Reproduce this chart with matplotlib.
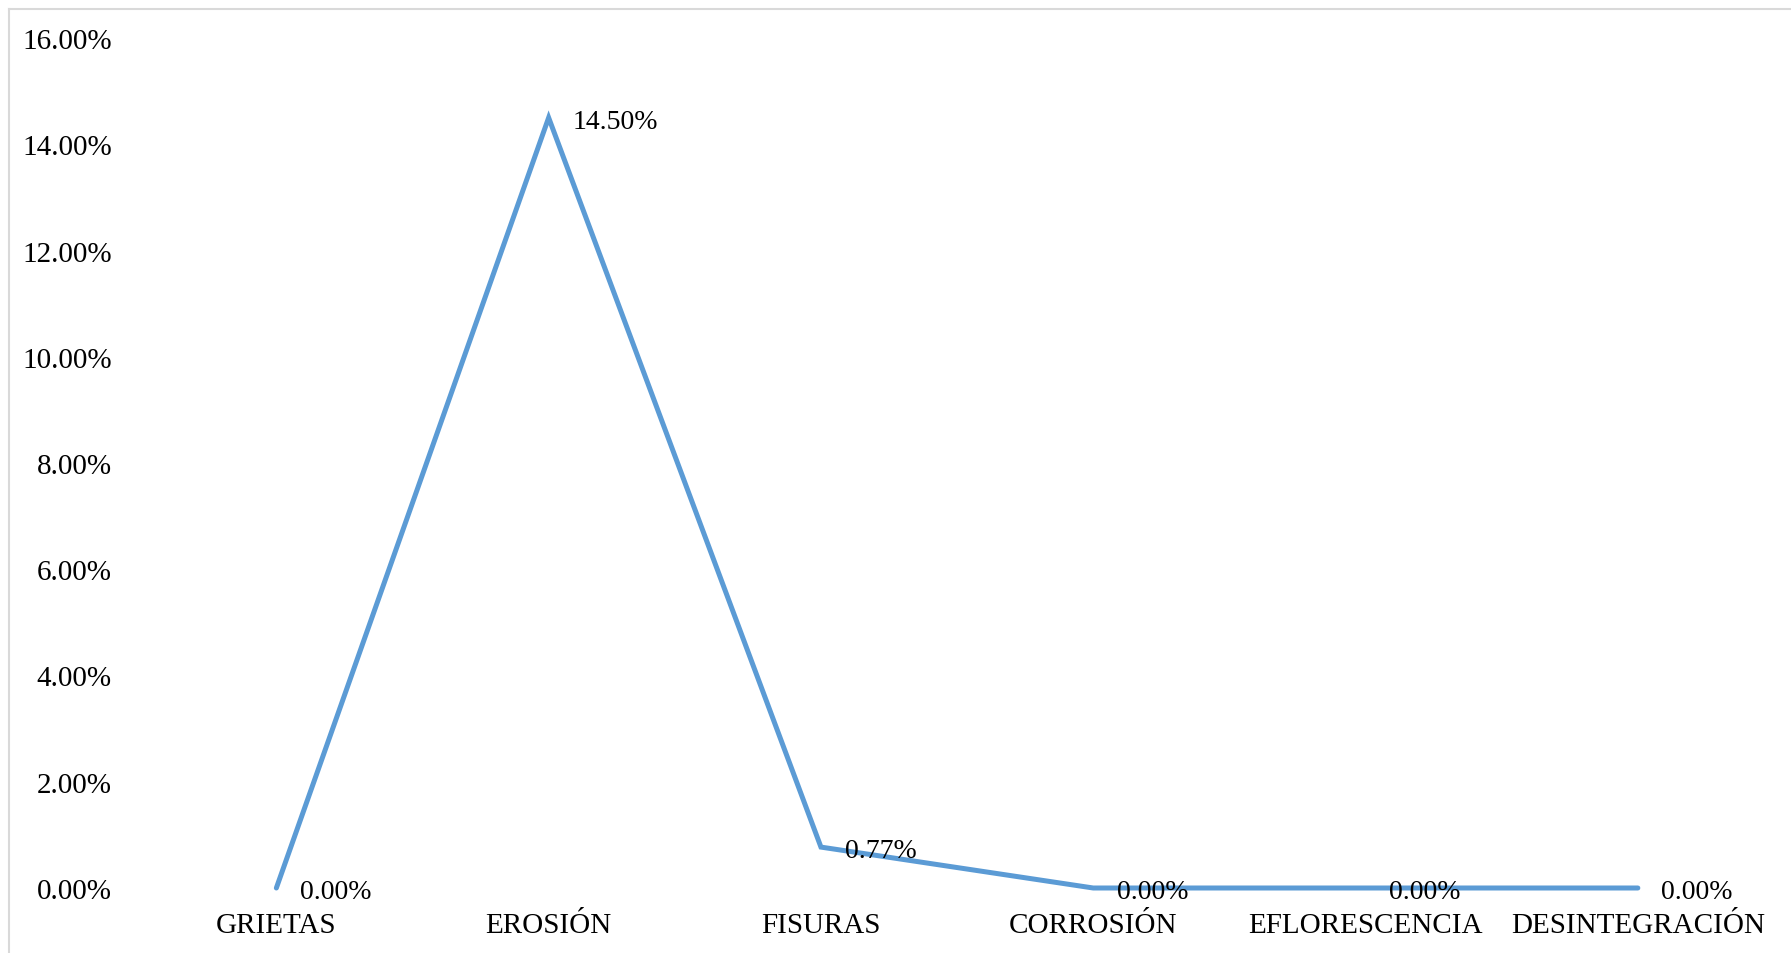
import matplotlib
matplotlib.use("Agg")
import matplotlib.pyplot as plt
from matplotlib.lines import Line2D
from matplotlib.ticker import FuncFormatter, MultipleLocator

categories = ["GRIETAS", "EROSIÓN", "FISURAS", "CORROSIÓN", "EFLORESCENCIA", "DESINTEGRACIÓN"]
values = [0.0, 0.145, 0.0077, 0.0, 0.0, 0.0]

W, H = 1791, 954
DPI = 100
plt.rcParams['font.family'] = ['Liberation Serif', 'DejaVu Serif']

fig = plt.figure(figsize=(W / DPI, H / DPI), dpi=DPI)
left, right = 140.2, 1774
bottom, top = 889, 39
ax = fig.add_axes([left / W, (H - bottom) / H, (right - left) / W, (bottom - top) / H])

x = list(range(len(categories)))
ax.plot(x, values, color="#5B9BD5", lw=3.6, solid_capstyle="round",
        solid_joinstyle="miter", clip_on=False)

for xi, v in zip(x, values):
    ax.annotate(f"{v:.2%}", (xi, v), xytext=(17, -2.5), textcoords="offset points",
                ha="left", va="center", fontsize=20, color="black")

ax.set_xlim(-0.5, len(categories) - 0.5)
ax.set_ylim(0, 0.16)
ax.yaxis.set_major_locator(MultipleLocator(0.02))
ax.yaxis.set_major_formatter(FuncFormatter(lambda v, p: f"{v:.2%}"))
ax.set_xticks(x)
ax.set_xticklabels(categories)
ax.tick_params(axis="x", length=0, pad=32, labelsize=21)
ax.tick_params(axis="y", length=0, pad=20.5, labelsize=21)
for lbl in ax.get_xticklabels():
    lbl.set_va("baseline")
for s in ax.spines.values():
    s.set_visible(False)

# outer chart border (top and left visible)
fig.add_artist(Line2D([8.5 / W, 8.5 / W], [0, 1 - 9.5 / H], transform=fig.transFigure,
                      color="#D9D9D9", lw=1.5))
fig.add_artist(Line2D([8.5 / W, 1], [1 - 9.5 / H, 1 - 9.5 / H], transform=fig.transFigure,
                      color="#D9D9D9", lw=1.5))

fig.savefig("out.png", dpi=DPI)
